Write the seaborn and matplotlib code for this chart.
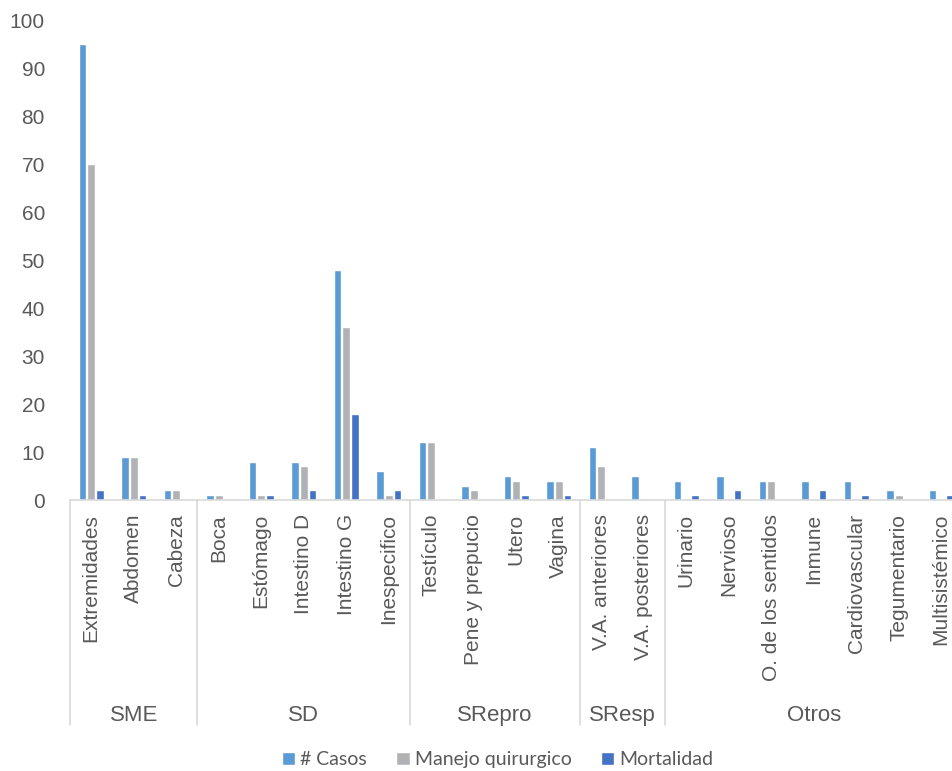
import matplotlib
matplotlib.use("Agg")
from matplotlib import pyplot as plt
import matplotlib.transforms as mtransforms
import pandas as pd
import seaborn as sns

# data
grupos = ["SME", "SD", "SRepro", "SResp", "Otros"]
grupo_tamano = [3, 5, 4, 2, 7]
categorias = ["Extremidades", "Abdomen", "Cabeza",
              "Boca", "Estómago", "Intestino D", "Intestino G", "Inespecifico",
              "Testículo", "Pene y prepucio", "Utero", "Vagina",
              "V.A. anteriores", "V.A. posteriores",
              "Urinario", "Nervioso", "O. de los sentidos", "Inmune",
              "Cardiovascular", "Tegumentario", "Multisistémico"]
casos = [95, 9, 2, 1, 8, 8, 48, 6, 12, 3, 5, 4, 11, 5, 4, 5, 4, 4, 4, 2, 2]
manejo = [70, 9, 2, 1, 1, 7, 36, 1, 12, 2, 4, 4, 7, 0, 0, 0, 4, 0, 0, 1, 0]
mortalidad = [2, 1, 0, 0, 1, 2, 18, 2, 0, 0, 1, 1, 0, 0, 1, 2, 0, 2, 1, 0, 1]
series = ["# Casos", "Manejo quirurgico", "Mortalidad"]
colores = ["#5B9BD5", "#B1B2B5", "#4472C4"]

df = pd.concat([
    pd.DataFrame({"categoria": categorias, "valor": v, "serie": s})
    for s, v in zip(series, [casos, manejo, mortalidad])
])

sns.set_theme(style="white")
plt.rcParams['font.family'] = ['Liberation Sans', 'DejaVu Sans']
gris = "#595959"

fig = plt.figure(figsize=(9.53, 7.71), dpi=100)
ax = fig.add_axes([70 / 953, 271 / 771, 892.5 / 953, 480 / 771])

sns.barplot(data=df, x="categoria", y="valor", hue="serie", order=categorias,
            hue_order=series, palette=colores, width=0.62, gap=0.1,
            saturation=1, ax=ax, legend=True)

ax.set_xlim(-0.5, len(categorias) - 0.5)
ax.set_ylim(0, 100)
ax.set_yticks(range(0, 101, 10))
ax.set_xlabel("")
ax.set_ylabel("")
for s in ["top", "right", "left"]:
    ax.spines[s].set_visible(False)
ax.spines["bottom"].set_color("#D9D9D9")
ax.spines["bottom"].set_linewidth(1.2)
ax.tick_params(axis="y", length=0, labelsize=15, labelcolor=gris, pad=18)
ax.set_xticks(range(len(categorias)))
ax.set_xticklabels(categorias, rotation=90, va="top", ha="center",
                   fontsize=15, color=gris)
ax.tick_params(axis="x", length=0, pad=10)

# group labels and separators under the axis
trans = mtransforms.blended_transform_factory(ax.transData, ax.transAxes)
inicio = -0.5
ax.plot([inicio, inicio], [0, -0.469], transform=trans, color="#D9D9D9",
        lw=1.2, clip_on=False)
for g, n in zip(grupos, grupo_tamano):
    fin = inicio + n
    ax.plot([fin, fin], [0, -0.469], transform=trans, color="#D9D9D9",
            lw=1.2, clip_on=False)
    ax.text((inicio + fin) / 2, -0.448, g, transform=trans, ha="center",
            va="center", fontsize=16, color=gris)
    inicio = fin

handles, labels = ax.get_legend_handles_labels()
ax.get_legend().remove()
fig.legend(handles, labels, loc="center", bbox_to_anchor=(0.522, 0.0143),
           ncol=3, frameon=False, handlelength=0.7, handleheight=0.7,
           handletextpad=0.25, columnspacing=1.5,
           prop={"family": ["Lato", "DejaVu Sans"], "size": 14},
           labelcolor=gris)

fig.savefig("out.png", dpi=100)
